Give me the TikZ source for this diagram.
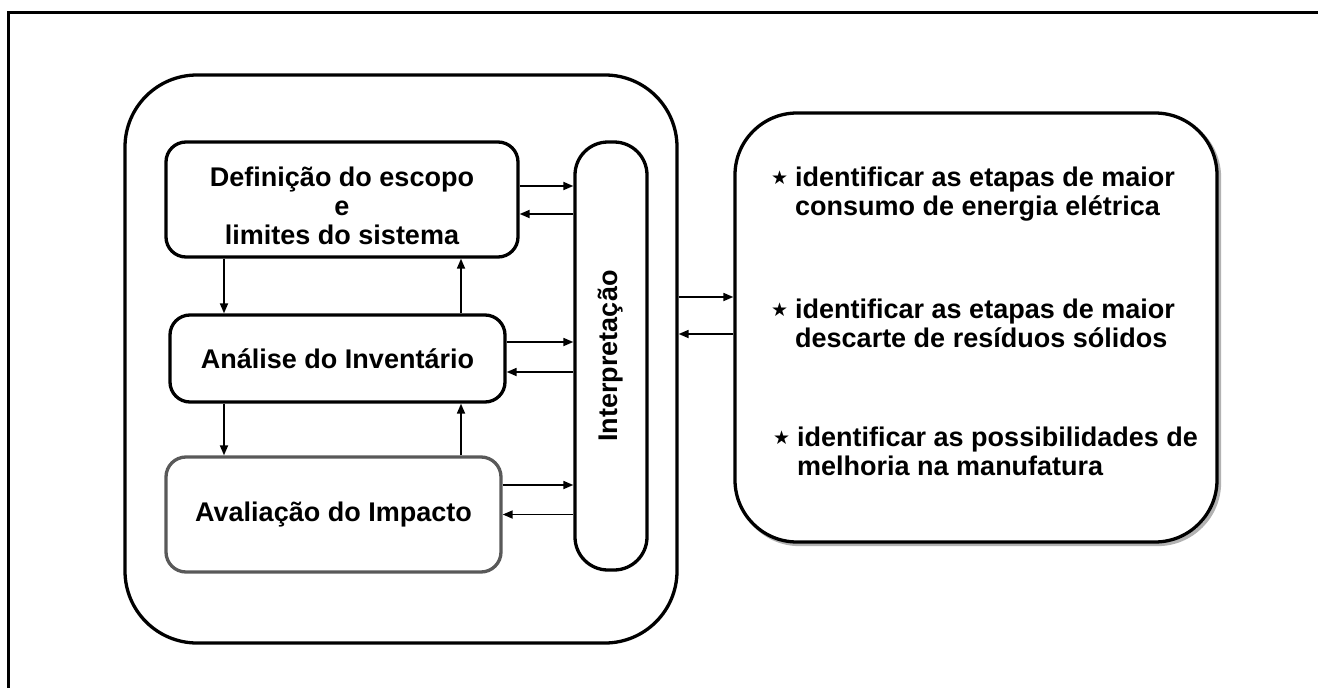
\documentclass[tikz,border=0pt]{standalone}
\usepackage{fontspec}
\setmainfont{Liberation Sans}
\newfontfamily\starfont{DejaVu Sans}
\usetikzlibrary{arrows.meta,positioning}
\newcommand{\boxfont}{\fontsize{27}{29}\selectfont\bfseries}
\newcommand{\goalstar}{\makebox[24pt][l]{\raisebox{2pt}{\starfont\fontsize{19}{19}\selectfont ★}}}
\begin{document}
\begin{tikzpicture}
[
    x=1pt, y=-1pt,
    stage/.style={draw, line width=3.3pt, rounded corners=20pt, align=center, font=\boxfont, inner sep=0pt},
    frame/.style={line width=3.3pt, rounded corners=72pt},
    arr/.style={-{Triangle[length=10pt,width=8pt]}, line width=1.7pt},
    goal/.style={align=left, font=\boxfont, inner sep=0pt, anchor=west},
]
\useasboundingbox (0,0) rectangle (1318,688);
\draw [line width=3pt] (8,688) -- (8,12) -- (1318,12);
\node [draw, frame, minimum width=552pt, minimum height=568pt] (outer) at (401,359) {};
\node [stage, minimum width=352pt, minimum height=115pt] (scope) at (342,199.5)
{\rule{0pt}{33pt}Definição do escopo\\e\\limites do sistema};
\node [stage, minimum width=335pt, minimum height=87pt] (inventory) at (337.5,358.5)
{Análise do Inventário};
\node [stage, draw=black!65, minimum width=335pt, minimum height=115pt] (impact) at (333.5,514.5)
{Avaliação do Impacto};
\node [stage, rotate=90, rounded corners=33pt, minimum width=428pt, minimum height=72pt] (interp) at (611,356)
{Interpretação};
\draw [black!30, line width=3.3pt, rounded corners=62pt] (737.5,115.5) rectangle (1219.5,544.5);
\node [draw, fill=white, line width=3.3pt, rounded corners=62pt, minimum width=482pt, minimum height=429pt] (goals) at (976,327.5) {};
\node [goal] (goal1) at (771,194) {\goalstar identificar as etapas de maior\\\hspace{24pt}consumo de energia elétrica};
\node [goal] (goal2) at (771,323) {\goalstar identificar as etapas de maior\\\hspace{24pt}descarte de resíduos sólidos};
\node [goal] (goal3) at (773,451) {\goalstar identificar as possibilidades de\\\hspace{24pt}melhoria na manufatura};
\draw [arr] ([xshift=-118pt]scope.south) -- ([xshift=-118pt]scope.south |- inventory.north);
\draw [arr] ([xshift=119pt]scope.south |- inventory.north) -- ([xshift=119pt]scope.south);
\draw [arr] ([xshift=-118pt]scope.south |- inventory.south) -- ([xshift=-118pt]scope.south |- impact.north);
\draw [arr] ([xshift=119pt]scope.south |- impact.north) -- ([xshift=119pt]scope.south |- inventory.south);
\draw [arr] ([yshift=13.5pt]scope.east) -- ([yshift=13.5pt]scope.east -| interp.north);
\draw [arr] ([yshift=-14.5pt]scope.east -| interp.north) -- ([yshift=-14.5pt]scope.east);
\draw [arr] ([yshift=16.5pt]inventory.east) -- ([yshift=16.5pt]inventory.east -| interp.north);
\draw [arr] ([yshift=-13.5pt]inventory.east -| interp.north) -- ([yshift=-13.5pt]inventory.east);
\draw [arr] ([yshift=29.5pt]impact.east) -- ([yshift=29.5pt]impact.east -| interp.north);
\draw [arr] (impact.east -| interp.north) -- (impact.east);
\draw [arr] ([yshift=62pt]outer.east) -- ([yshift=62pt]outer.east -| goals.west);
\draw [arr] ([yshift=25pt]outer.east -| goals.west) -- ([yshift=25pt]outer.east);
\end{tikzpicture}
\end{document}
